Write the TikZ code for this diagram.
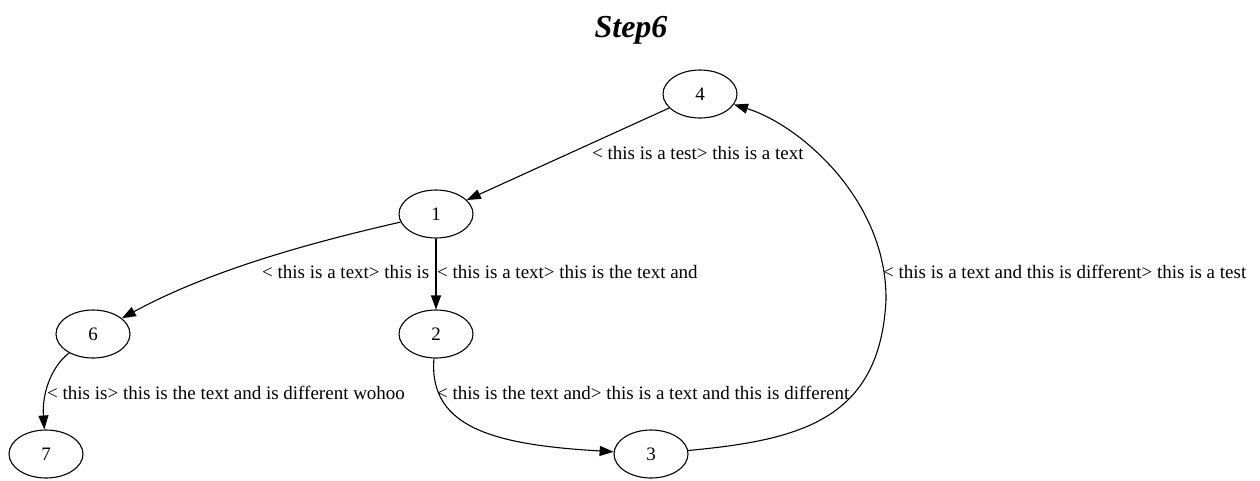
\documentclass[tikz,border=0pt]{standalone}
\usepackage{fontspec}
\setmainfont{Liberation Serif}
\usetikzlibrary{arrows.meta,shapes.geometric}
\tikzset{
  state/.style={draw, ellipse, line width=1.1pt, minimum width=74pt, minimum height=48pt,
    inner sep=0pt, font=\fontsize{19}{22}\selectfont},
  edge/.style={draw, line width=1.1pt, -{Triangle[length=14pt,width=10pt]}},
  elabel/.style={anchor=base west, inner sep=0pt, font=\fontsize{19}{22}\selectfont},
}
\begin{document}
\begin{tikzpicture}[x=1pt,y=-1pt]
  \useasboundingbox (0,0) rectangle (1260,480);
  % title
  \node[anchor=base, font=\fontsize{32}{38}\selectfont\bfseries\itshape] (title) at (631,37) {Step6};
  % states
  \node[state] (n4) at (700,94) {4};
  \node[state] (n1) at (436,214) {1};
  \node[state] (n6) at (93,334) {6};
  \node[state] (n2) at (436,334) {2};
  \node[state] (n7) at (46,454) {7};
  \node[state] (n3) at (651,454) {3};
  \coordinate (bend34) at (886,300);
  % transitions
  \path[edge] (n4) -- (n1);
  \path[edge] (n1) .. controls (322,240) and (214,268) .. (n6);
  \path[edge] (n1) -- (n2);
  \path[edge] (n6) .. controls (50,368) and (42,395) .. (n7);
  \path[edge] (n2) .. controls (428,430) and (500,445) .. (n3);
  \path[edge] (n3) .. controls (800,440) and (880,420) .. (bend34)
                   .. controls (887,200) and (800,125) .. (n4);
  % transition labels
  \node[elabel] (l41) at (592,159) {< this is a test> this is a text};
  \node[elabel] (l16) at (262,278) {< this is a text> this is};
  \node[elabel] (l12) at (437,278) {< this is a text> this is the text and};
  \node[elabel] (l67) at (47,399) {< this is> this is the text and is different wohoo};
  \node[elabel] (l23) at (437,399) {< this is the text and> this is a text and this is different};
  \node[elabel] (l34) at (883,278) {< this is a text and this is different> this is a test};
\end{tikzpicture}
\end{document}
